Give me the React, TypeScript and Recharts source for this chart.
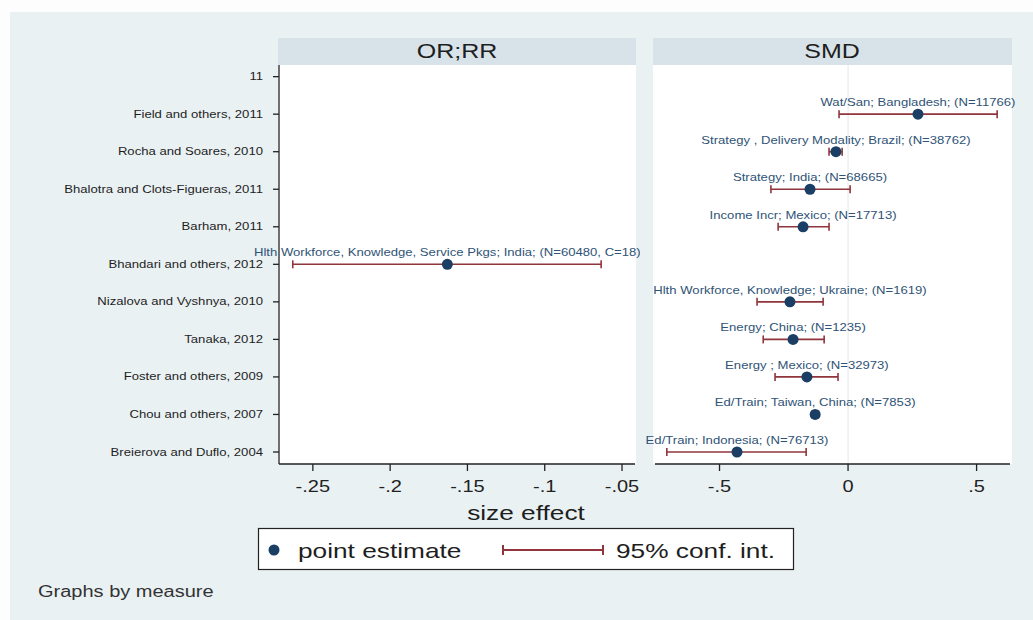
import React from 'react';
import { ScatterChart, Scatter, XAxis, YAxis, ErrorBar, ReferenceLine } from 'recharts';

// rows from top to bottom of the forest plot
const studies = [
  '11',
  'Field and others, 2011',
  'Rocha and Soares, 2010',
  'Bhalotra and Clots-Figueras, 2011',
  'Barham, 2011',
  'Bhandari and others, 2012',
  'Nizalova and Vyshnya, 2010',
  'Tanaka, 2012',
  'Foster and others, 2009',
  'Chou and others, 2007',
  'Breierova and Duflo, 2004',
];
const measures = [null, 'SMD', 'SMD', 'SMD', 'SMD', 'OR;RR', 'SMD', 'SMD', 'SMD', 'SMD', 'SMD'];
const estimates = [null, 0.272, -0.047, -0.148, -0.175, -0.163, -0.226, -0.214, -0.16, -0.128, -0.432];
const ciLow = [null, -0.035, -0.074, -0.3, -0.272, -0.263, -0.354, -0.33, -0.284, -0.14, -0.705];
const ciHigh = [null, 0.58, -0.023, 0.008, -0.074, -0.0635, -0.097, -0.093, -0.039, -0.115, -0.163];
const effectLabels = [
  '',
  'Wat/San; Bangladesh; (N=11766)',
  'Strategy , Delivery Modality; Brazil; (N=38762)',
  'Strategy; India; (N=68665)',
  'Income Incr; Mexico; (N=17713)',
  'Hlth Workforce, Knowledge, Service Pkgs; India; (N=60480, C=18)',
  'Hlth Workforce, Knowledge; Ukraine; (N=1619)',
  'Energy; China; (N=1235)',
  'Energy ; Mexico; (N=32973)',
  'Ed/Train; Taiwan, China; (N=7853)',
  'Ed/Train; Indonesia; (N=76713)',
];
const orTicks = [-0.25, -0.2, -0.15, -0.1, -0.05];
const smdTicks = [-0.5, 0, 0.5];
const rowTicks = studies.map((_, i) => i);

const rows = studies
  .map((s, i) => ({
    row: i,
    study: s,
    est: estimates[i],
    lo: ciLow[i],
    hi: ciHigh[i],
    label: effectLabels[i],
    measure: measures[i],
  }))
  .filter((r) => r.est !== null)
  .map((r) => ({ ...r, err: [(r.est as number) - (r.lo as number), (r.hi as number) - (r.est as number)] }));

const orData = rows.filter((r) => r.measure === 'OR;RR');
const smdData = rows.filter((r) => r.measure === 'SMD');

const SX = 1.25;
const FONT = '"Liberation Sans", Arial, sans-serif';
const NAVY = '#1b3f64';
const MAROON = '#90353b';
const LABEL = '#2f5376';
const AXIS = '#222';
const ROW_DOMAIN = [-0.31, 10.32];

const fmt = (v: number) => {
  const s = String(Math.round(v * 100) / 100);
  return s.replace('0.', '.');
};

const SText = ({ x, y, size, anchor = 'start', color = '#1e1e1e', children }: any) => (
  <text
    transform={`translate(${x},${y}) scale(${SX},1)`}
    textAnchor={anchor}
    dominantBaseline="central"
    fontSize={size}
    fill={color}
    fontFamily={FONT}
  >
    {children}
  </text>
);

const YTick = (p: any) => (
  <SText x={p.x} y={p.y} size={10.5} anchor="end">
    {studies[p.payload.value]}
  </SText>
);

const XTick = (p: any) => (
  <SText x={p.x} y={p.y} size={16} anchor="middle" color="#222">
    {fmt(p.payload.value)}
  </SText>
);

const NoShape = () => <g />;

const PointShape = (p: any) => (
  <g>
    <circle cx={p.cx} cy={p.cy} r={5.5} fill={NAVY} />
    <SText x={p.cx} y={p.cy - 11.5} size={10.5} anchor="middle" color={LABEL}>
      {p.payload.label}
    </SText>
  </g>
);

function Panel({ data, domain, ticks, showY, width, margin, left, zeroLine }: any) {
  return (
    <div style={{ position: 'absolute', left, top: 0 }}>
      <ScatterChart width={width} height={500} margin={margin}>
        <XAxis
          type="number"
          dataKey="est"
          domain={domain}
          ticks={ticks}
          height={36}
          tickSize={7}
          tickMargin={16}
          tick={XTick}
          axisLine={{ stroke: AXIS, strokeWidth: 1.3 }}
          tickLine={{ stroke: AXIS, strokeWidth: 1.3 }}
        />
        <YAxis
          type="number"
          dataKey="row"
          domain={ROW_DOMAIN}
          ticks={rowTicks}
          interval={0}
          reversed
          hide={!showY}
          width={279}
          tickSize={6}
          tickMargin={10}
          tick={YTick}
          axisLine={{ stroke: AXIS, strokeWidth: 1.3 }}
          tickLine={{ stroke: AXIS, strokeWidth: 1.3 }}
        />
        {zeroLine && <ReferenceLine x={0} stroke="#e2e6ea" strokeWidth={1} />}
        <Scatter data={data} shape={NoShape} isAnimationActive={false}>
          <ErrorBar dataKey="err" direction="x" width={4} stroke={MAROON} strokeWidth={1.6} />
        </Scatter>
        <Scatter data={data} shape={PointShape} isAnimationActive={false} />
      </ScatterChart>
    </div>
  );
}

export default function App() {
  return (
    <div style={{ position: 'absolute', left: 0, top: 0, width: 1033, height: 620, background: '#fdfdfd', overflow: 'hidden' }}>
      <div style={{ position: 'absolute', left: 10, top: 12, width: 1023, height: 608, background: '#eaf1f3' }} />
      <div style={{ position: 'absolute', left: 278, top: 38, width: 358, height: 27, background: '#d8e3e9' }} />
      <div style={{ position: 'absolute', left: 653, top: 38, width: 359, height: 27, background: '#d8e3e9' }} />
      <div style={{ position: 'absolute', left: 278, top: 65, width: 358, height: 399, background: '#fff' }} />
      <div style={{ position: 'absolute', left: 653, top: 65, width: 359, height: 399, background: '#fff' }} />

      <Panel
        left={0}
        width={640}
        data={orData}
        domain={[-0.2719, -0.0416]}
        ticks={orTicks}
        showY
        margin={{ top: 65, right: 5, left: 0, bottom: 0 }}
      />
      <Panel
        left={640}
        width={393}
        data={smdData}
        domain={[-0.751, 0.63]}
        ticks={smdTicks}
        showY={false}
        zeroLine
        margin={{ top: 65, right: 23, left: 15, bottom: 0 }}
      />

      <svg width={1033} height={620} style={{ position: 'absolute', left: 0, top: 0, pointerEvents: 'none' }}>
        <SText x={457} y={51} size={20} anchor="middle">OR;RR</SText>
        <SText x={832} y={51} size={20} anchor="middle">SMD</SText>
        <SText x={526} y={512} size={21} anchor="middle">size effect</SText>

        <rect x={258.5} y={528.5} width={535} height={41} fill="#fff" stroke="#222" strokeWidth={1.2} />
        <circle cx={274} cy={550} r={5.5} fill={NAVY} />
        <SText x={298} y={550} size={21}>point estimate</SText>
        <line x1={503} y1={550} x2={603} y2={550} stroke={MAROON} strokeWidth={2} />
        <line x1={503} y1={545} x2={503} y2={555} stroke={MAROON} strokeWidth={2} />
        <line x1={603} y1={545} x2={603} y2={555} stroke={MAROON} strokeWidth={2} />
        <SText x={616} y={550} size={21}>95% conf. int.</SText>

        <SText x={38} y={592} size={16} color="#333">Graphs by measure</SText>
      </svg>
    </div>
  );
}
